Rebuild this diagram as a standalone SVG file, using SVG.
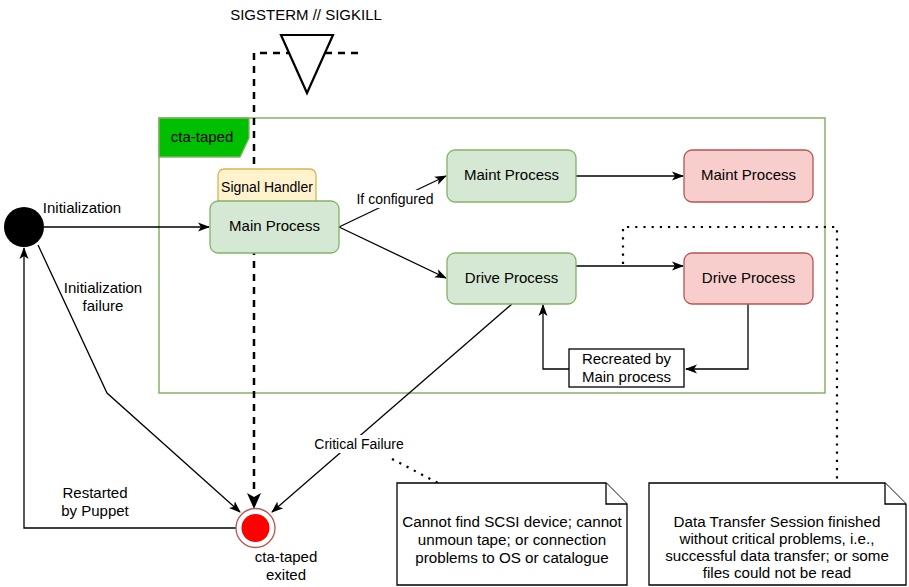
<svg xmlns="http://www.w3.org/2000/svg" width="909" height="587" viewBox="0 0 909 587">
<defs>
<style>
text{font-family:"Liberation Sans",Arial,Helvetica,sans-serif;fill:#000;text-anchor:middle;dominant-baseline:central}
.t15{font-size:15px}
.t14{font-size:14px}
.tn{font-size:15.2px}
.green{fill:#d5e8d4;stroke:#82b366;stroke-width:1.3}
.red{fill:#f8cecc;stroke:#b85450;stroke-width:1.3}
.edge{fill:none;stroke:#000;stroke-width:1.3}
.dash{fill:none;stroke:#000;stroke-width:2.5;stroke-dasharray:7 6}
.dot{fill:none;stroke:#000;stroke-width:2.2;stroke-dasharray:2.2 6}
.note{fill:#fff;stroke:#000;stroke-width:1.3}
</style>
<marker id="arr" viewBox="0 0 12 10" refX="11" refY="5" markerWidth="12" markerHeight="10" markerUnits="userSpaceOnUse" orient="auto">
<path d="M0,0.5 L12,5 L0,9.5 L3,5 Z" fill="#000"/>
</marker>
</defs>
<rect width="909" height="587" fill="#fff"/>

<g id="container">
<rect x="159" y="118" width="666" height="275" fill="#fff" stroke="#82b366" stroke-width="1.5"/>
<path d="M159,118 H249 V138 L240,157 H159 Z" fill="#00bf00" stroke="#82b366" stroke-width="1.3"/>
<text class="t15" x="202" y="136">cta-taped</text>
</g>

<g id="connectors">
<path class="dash" d="M358,53 H254 V494" />
<path d="M254,509 L247,493 L254,497 L261,493 Z" fill="#000"/>
<line class="edge" x1="44" y1="227" x2="209" y2="227" marker-end="url(#arr)"/>
<line class="edge" x1="339" y1="227" x2="446" y2="176" marker-end="url(#arr)"/>
<line class="edge" x1="339" y1="227" x2="446" y2="278" marker-end="url(#arr)"/>
<line class="edge" x1="576" y1="176" x2="683" y2="176" marker-end="url(#arr)"/>
<line class="edge" x1="576" y1="266" x2="683" y2="266" marker-end="url(#arr)"/>
<polyline class="edge" points="748,304 748,369 686,369" marker-end="url(#arr)"/>
<polyline class="edge" points="569,369 543,369 543,305" marker-end="url(#arr)"/>
<polyline class="edge" points="38,245 107,393 240,512" marker-end="url(#arr)"/>
<polyline class="edge" points="236,528 24,528 24,248" marker-end="url(#arr)"/>
<line class="edge" x1="512" y1="304" x2="272" y2="512" marker-end="url(#arr)"/>
<polyline class="dot" points="623,264 623,227 837,227 837,484"/>
<line class="dot" x1="392" y1="459" x2="440" y2="484"/>
<rect x="355" y="190" width="80" height="18" fill="#fff"/>
<text class="t14" x="395" y="199">If configured</text>
<rect x="314" y="435" width="90" height="18" fill="#fff"/>
<text class="t14" x="359" y="444">Critical Failure</text>
<text class="t15" x="82" y="207">Initialization</text>
<text class="t15" x="103" y="287">Initialization</text>
<text class="t15" x="103" y="305">failure</text>
<text class="t15" x="95" y="492">Restarted</text>
<text class="t15" x="95" y="510">by Puppet</text>
</g>

<g id="signal">
<polygon points="281,35 333,35 307,93" fill="#fff" stroke="#000" stroke-width="2.2" stroke-linejoin="miter"/>
<text class="t15" x="306" y="14">SIGSTERM // SIGKILL</text>
</g>

<g id="init">
<circle cx="24" cy="227" r="20" fill="#000"/>
</g>

<g id="final">
<circle cx="255.5" cy="528" r="19.5" fill="#fff" stroke="#b85450" stroke-width="1.3"/>
<circle cx="255.5" cy="528" r="14" fill="#ff0000"/>
<text class="t15" x="286" y="556">cta-taped</text>
<text class="t15" x="286" y="574">exited</text>
</g>

<g id="signal-handler">
<rect x="218" y="169" width="98" height="40" rx="6" fill="#fff2cc" stroke="#d6b656" stroke-width="1.3"/>
<text class="t14" x="267" y="187">Signal Handler</text>
</g>

<g id="main">
<rect class="green" x="210" y="201" width="129" height="52" rx="8"/>
<text class="t15" x="274.5" y="225">Main Process</text>
</g>

<g id="maint-green">
<rect class="green" x="447" y="150" width="129" height="52" rx="8"/>
<text class="t15" x="511.5" y="174">Maint Process</text>
</g>

<g id="maint-red">
<rect class="red" x="684" y="150" width="129" height="52" rx="8"/>
<text class="t15" x="748.5" y="174">Maint Process</text>
</g>

<g id="drive-green">
<rect class="green" x="447" y="253" width="129" height="51" rx="8"/>
<text class="t15" x="511.5" y="277">Drive Process</text>
</g>

<g id="drive-red">
<rect class="red" x="684" y="253" width="129" height="51" rx="8"/>
<text class="t15" x="748.5" y="277">Drive Process</text>
</g>

<g id="recreated">
<rect x="569" y="349" width="115" height="38" fill="#fff" stroke="#000" stroke-width="1.3"/>
<text class="t15" x="626.5" y="358">Recreated by</text>
<text class="t15" x="626.5" y="376">Main process</text>
</g>

<g id="note1">
<path class="note" d="M397,483 H606 L627,504 V585 H397 Z"/>
<path class="note" d="M606,483 V504 H627" fill="none"/>
<text class="tn" x="512" y="521">Cannot find SCSI device; cannot</text>
<text class="tn" x="512" y="539">unmoun tape; or connection</text>
<text class="tn" x="512" y="557">problems to OS or catalogue</text>
</g>

<g id="note2">
<path class="note" d="M649,483 H885 L906,504 V585 H649 Z"/>
<path class="note" d="M885,483 V504 H906" fill="none"/>
<text class="tn" x="777" y="521">Data Transfer Session finished</text>
<text class="tn" x="777" y="538">without critical problems, i.e.,</text>
<text class="tn" x="777" y="555">successful data transfer; or some</text>
<text class="tn" x="777" y="572">files could not be read</text>
</g>
</svg>
